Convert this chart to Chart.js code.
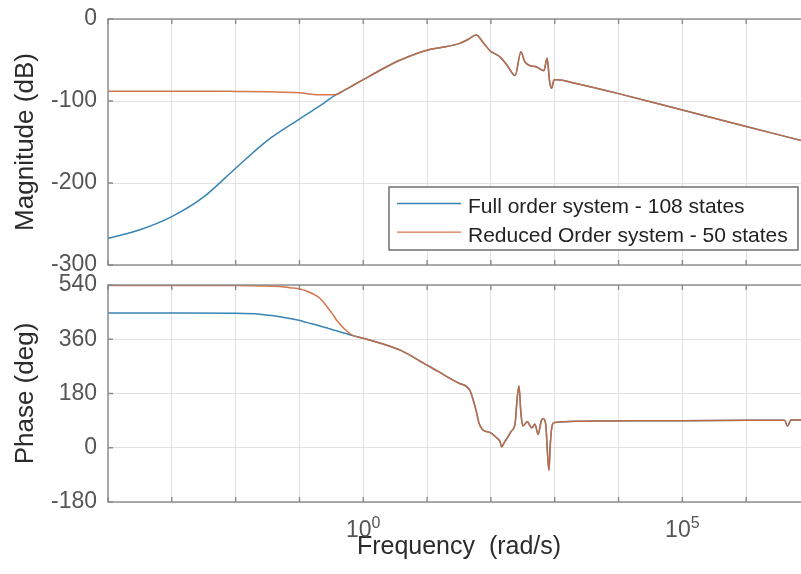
<!DOCTYPE html>
<html>
<head>
<meta charset="utf-8">
<title>Bode diagram</title>
<script src="https://cdn.jsdelivr.net/npm/chart.js@4.4.1/dist/chart.umd.min.js"></script>
<style>
  html, body { margin: 0; padding: 0; background: #fff; overflow: hidden; }
  #wrap { position: relative; width: 801px; height: 574px; overflow: hidden; }
  canvas { position: absolute; left: 0; }
  #mag { top: 0; }
  #phase { top: 268px; }
</style>
</head>
<body>
<div id="wrap">
  <canvas id="mag" width="812" height="280"></canvas>
  <canvas id="phase" width="812" height="306"></canvas>
</div>
<script>
// frequencies are kept as decades: log10(w), w in rad/s
const magLowDec  = [-4, -3.5, -3, -2.5, -2, -1.5, -1, -0.7, -0.42];
const fullMagLow = [-267.5, -257, -241, -217, -182, -148, -122, -107, -92];
const redMagLow  = [-88, -88, -88, -88, -88.3, -88.8, -90, -92.5, -92];

// above ~1 rad/s both models give the same response
const magHighDec = [-0.3, -0.15, 0, 0.3, 0.58, 1, 1.2, 1.5, 1.64, 1.77, 1.88, 1.99, 2.14, 2.25, 2.38, 2.47, 2.53, 2.62, 2.7, 2.77, 2.83, 2.88, 2.92, 2.95, 2.99, 3.05, 3.3, 4, 5, 6, 7];
const magHigh    = [-87, -80.5, -74, -61, -50, -38, -35, -30, -25, -19.5, -29, -39, -46, -56, -69, -40, -52, -57, -58, -61, -63, -48, -76, -84.5, -74, -74, -78, -91, -111, -131, -151];

const phaseLowDec  = [-4, -3, -2, -1.62, -1.31, -1.15, -0.99, -0.89, -0.68, -0.55, -0.47, -0.42, -0.29];
const fullPhaseLow = [447, 447, 446, 443, 435, 429, 422, 416, 404, 396, 391, 388, 380];
const redPhaseLow  = [538, 538, 538, 537, 535, 531, 527, 520, 496, 463, 440, 424, 393];

const phaseHighDec = [-0.16, 0, 0.3, 0.58, 1, 1.2, 1.36, 1.5, 1.62, 1.68, 1.72, 1.77, 1.81, 1.87, 1.99, 2.09, 2.14, 2.17, 2.21, 2.25, 2.32, 2.38, 2.41, 2.44, 2.47, 2.5, 2.57, 2.64, 2.69, 2.74, 2.79, 2.82, 2.86, 2.89, 2.91, 2.93, 2.96, 3, 3.4, 4.2, 5, 6, 6.6, 6.65, 6.7, 7];
const phaseHigh    = [372, 363, 345, 324, 274, 250, 230, 214, 203, 186, 160, 122, 84, 60, 50, 33, 22, 3, 18, 30, 55, 82, 160, 205, 115, 72, 86, 66, 78, 44, 90, 97, 76, -30, -75, 10, 75, 84, 88, 90, 90, 91, 91, 72, 92, 92];

const seriesNames = ['Full order system - 108 states', 'Reduced Order system - 50 states'];
const xTickDecades = [-4, -3, -2, -1, 0, 1, 2, 3, 4, 5, 6, 7];
const xLabelDecades = [0, 5];
const magTicks = [0, -100, -200, -300];
const phaseTicks = [540, 360, 180, 0, -180];

const FONT = "'Liberation Sans', Arial, Helvetica, sans-serif";
const blue = '#3a84b4';
const orange = 'rgba(206,104,58,0.9)';
const gridColor = '#e2e2e2';
const frameColor = '#8a8a8a';
const tickColor = '#555';
const titleColor = '#2b2b2b';

const toPoints = (dec, vals) => dec.map((d, i) => ({ x: 10 ** d, y: vals[i] }));

const fullMag = toPoints(magLowDec, fullMagLow).concat(toPoints(magHighDec, magHigh));
const redMag = toPoints(magLowDec, redMagLow).concat(toPoints(magHighDec, magHigh));
const fullPhase = toPoints(phaseLowDec, fullPhaseLow).concat(toPoints(phaseHighDec, phaseHigh));
const redPhase = toPoints(phaseLowDec, redPhaseLow).concat(toPoints(phaseHighDec, phaseHigh));

function makeDatasets(full, reduced) {
  const line = { borderWidth: 1.5, pointRadius: 0, cubicInterpolationMode: 'monotone' };
  return [
    Object.assign({ label: seriesNames[0], data: full, borderColor: blue, order: 1 }, line),
    Object.assign({ label: seriesNames[1], data: reduced, borderColor: orange, order: 0 }, line)
  ];
}

function freqAxis(height, title) {
  return {
    type: 'logarithmic',
    min: 1e-4,
    max: 1e7,
    afterBuildTicks: s => { s.ticks = xTickDecades.map(d => ({ value: 10 ** d })); },
    afterFit: s => { s.height = height; },
    ticks: { display: false },
    grid: { color: gridColor, drawTicks: false },
    border: { display: false },
    title: title
  };
}

function valueAxis(min, max, ticks, label) {
  return {
    min: min,
    max: max,
    afterBuildTicks: s => { s.ticks = ticks.map(v => ({ value: v })); },
    afterFit: s => { s.width = 108; },
    // the gap between labels and plot comes from an invisible tick mark,
    // ticks.padding would also push the plot area down
    ticks: { color: tickColor, font: { family: FONT, size: 23 }, padding: 0 },
    grid: { color: gridColor, drawTicks: true, tickLength: 11, tickColor: 'rgba(0,0,0,0)' },
    border: { display: false },
    title: { display: true, text: label, color: titleColor, font: { family: FONT, size: 26 }, padding: { top: 10, bottom: 0 } }
  };
}

// box round the plot area with the small inward ticks
const axesBox = {
  id: 'axesBox',
  afterDraw(chart) {
    const { ctx, chartArea: a, scales } = chart;
    ctx.save();
    ctx.strokeStyle = frameColor;
    ctx.lineWidth = 1.4;
    ctx.strokeRect(a.left, a.top, a.right - a.left, a.bottom - a.top);
    ctx.beginPath();
    xTickDecades.forEach(d => {
      const x = scales.x.getPixelForValue(10 ** d);
      ctx.moveTo(x, a.top); ctx.lineTo(x, a.top + 5);
      ctx.moveTo(x, a.bottom); ctx.lineTo(x, a.bottom - 5);
    });
    scales.y.ticks.forEach(t => {
      const y = scales.y.getPixelForValue(t.value);
      ctx.moveTo(a.left, y); ctx.lineTo(a.left + 5, y);
    });
    ctx.stroke();
    ctx.restore();
  }
};

// legend in a box at the lower right of the magnitude plot
const boxLegend = {
  id: 'boxLegend',
  afterDraw(chart) {
    const { ctx } = chart;
    const left = 389, top = 187, w = 409, h = 63;
    ctx.save();
    ctx.fillStyle = '#fff';
    ctx.fillRect(left, top, w, h);
    ctx.strokeStyle = '#5a5a5a';
    ctx.lineWidth = 1.3;
    ctx.strokeRect(left, top, w, h);
    ctx.font = '21px ' + FONT;
    ctx.textBaseline = 'alphabetic';
    chart.data.datasets.forEach((ds, i) => {
      const y = top + 16.5 + i * 28.7;
      ctx.strokeStyle = ds.borderColor;
      ctx.lineWidth = 1.3;
      ctx.beginPath();
      ctx.moveTo(left + 8, y);
      ctx.lineTo(left + 72, y);
      ctx.stroke();
      ctx.fillStyle = '#222';
      ctx.fillText(ds.label, left + 79, y + 9.5);
    });
    ctx.restore();
  }
};

// 10^n labels under the phase plot
const decadeLabels = {
  id: 'decadeLabels',
  afterDraw(chart) {
    const { ctx, chartArea: a } = chart;
    const x = chart.scales.x;
    ctx.save();
    ctx.fillStyle = tickColor;
    ctx.textBaseline = 'alphabetic';
    xLabelDecades.forEach(d => {
      const px = x.getPixelForValue(10 ** d);
      ctx.font = '23px ' + FONT;
      const wb = ctx.measureText('10').width;
      ctx.font = '16px ' + FONT;
      const we = ctx.measureText(String(d)).width;
      const x0 = px - (wb + we) / 2;
      ctx.font = '23px ' + FONT;
      ctx.fillText('10', x0, a.bottom + 35);
      ctx.font = '16px ' + FONT;
      ctx.fillText(String(d), x0 + wb, a.bottom + 26);
    });
    ctx.restore();
  }
};

const common = {
  responsive: false,
  animation: false,
  events: [],
  plugins: { legend: { display: false }, tooltip: { enabled: false } }
};

new Chart(document.getElementById('mag'), {
  type: 'line',
  data: { datasets: makeDatasets(fullMag, redMag) },
  options: Object.assign({}, common, {
    layout: { padding: { top: 19, right: 2, left: 0, bottom: 0 } },
    scales: {
      x: freqAxis(15, { display: false }),
      y: valueAxis(-300, 0, magTicks, 'Magnitude (dB)')
    }
  }),
  plugins: [axesBox, boxLegend]
});

new Chart(document.getElementById('phase'), {
  type: 'line',
  data: { datasets: makeDatasets(fullPhase, redPhase) },
  options: Object.assign({}, common, {
    layout: { padding: { top: 17, right: 2, left: 0, bottom: 0 } },
    scales: {
      x: freqAxis(72, {
        display: true,
        text: 'Frequency  (rad/s)',
        color: titleColor,
        font: { family: FONT, size: 25 },
        padding: { top: 0, bottom: 11.5 }
      }),
      y: valueAxis(-180, 540, phaseTicks, 'Phase (deg)')
    }
  }),
  plugins: [axesBox, decadeLabels]
});
</script>
</body>
</html>
